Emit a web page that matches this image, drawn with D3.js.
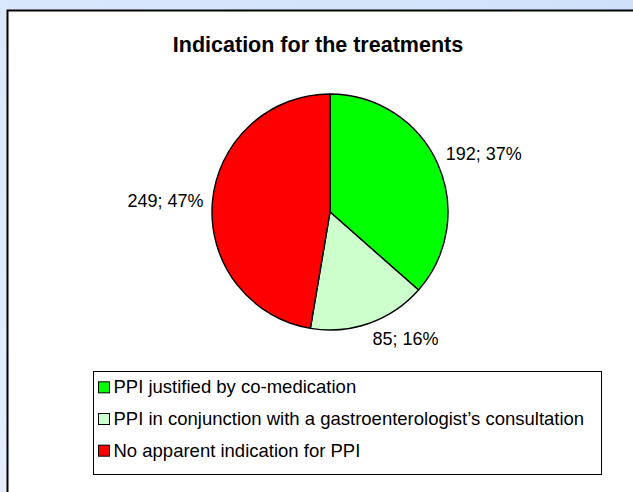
<!DOCTYPE html>
<html>
<head>
<meta charset="utf-8">
<script src="https://cdn.jsdelivr.net/npm/d3@7"></script>
<style>
    html, body { margin: 0; padding: 0; }
    svg { display: block; }
</style>
</head>
<body>
<svg id="chart"></svg>
<script>
// values
var categories = [
    "PPI justified by co-medication",
    "PPI in conjunction with a gastroenterologist\u2019s consultation",
    "No apparent indication for PPI"
];
var counts = [192, 85, 249];
var percentLabels = ["37%", "16%", "47%"];
var sliceColors = ["#00ff00", "#ccffcc", "#ff0000"];
var title = "Indication for the treatments";

var Width = 633;
var Height = 492;
var Font = "Arial, 'Liberation Sans', sans-serif";

var svg = initSvg();
drawTitle(svg);
drawPie(svg);
drawLegend(svg);

function initSvg() {
    let svg = d3.select("#chart")
        .attr("width", Width)
        .attr("height", Height);

    let grad = svg.append("defs").append("linearGradient")
        .attr("id", "bg")
        .attr("x1", "0").attr("y1", "1")
        .attr("x2", "1").attr("y2", "0");
    grad.append("stop").attr("offset", "0").attr("stop-color", "#e4eefc");
    grad.append("stop").attr("offset", "1").attr("stop-color", "#cfe1fa");

    svg.append("rect")
        .attr("width", Width)
        .attr("height", Height)
        .attr("fill", "url(#bg)");

    // white chart area, runs off the right and bottom edge
    svg.append("rect")
        .attr("x", 7.5)
        .attr("y", 10.5)
        .attr("width", Width + 20)
        .attr("height", Height + 20)
        .attr("fill", "#ffffff")
        .attr("stroke", "#000")
        .attr("stroke-width", 2);
    return svg;
}

function drawTitle(svg) {
    svg.append("text")
        .attr("x", 318)
        .attr("y", 52)
        .attr("text-anchor", "middle")
        .attr("font-family", Font)
        .attr("font-weight", "bold")
        .attr("font-size", 21.5)
        .text(title);
}

function drawPie(svg) {
    let cx = 330, cy = 212, r = 118;
    let data = counts.map((v, i) => ({ value: v, label: v + "; " + percentLabels[i], color: sliceColors[i] }));

    let pie = d3.pie()
        .value(d => d.value)
        .sort(null);
    let arcs = pie(data);

    let arc = d3.arc().innerRadius(0).outerRadius(r);

    let g = svg.append("g")
        .attr("transform", `translate(${cx},${cy})`);

    g.selectAll("path")
        .data(arcs)
        .join("path")
        .attr("d", arc)
        .attr("fill", d => d.data.color)
        .attr("stroke", "#000")
        .attr("stroke-width", 1.4)
        .attr("stroke-linejoin", "round");

    // labels: anchor point just outside the rim on the middle angle,
    // text box hangs off it away from the pie
    let labelR = r + 9;
    let glyphH = 13;
    let mid = d => (d.startAngle + d.endAngle) / 2;
    g.selectAll("text")
        .data(arcs)
        .join("text")
        .attr("font-family", Font)
        .attr("font-size", 18)
        .attr("fill", "#000")
        .attr("text-anchor", d => Math.sin(mid(d)) >= 0 ? "start" : "end")
        .attr("x", d => Math.sin(mid(d)) * labelR)
        .attr("y", d => {
            let c = Math.cos(mid(d));
            let above = 0.5 + 0.5 * Math.max(-1, Math.min(1, c / 0.4));
            return -c * labelR + glyphH * (1 - above);
        })
        .text(d => d.data.label);
}

function drawLegend(svg) {
    let box = { x: 93.5, y: 371.5, w: 508, h: 103 };
    let g = svg.append("g");

    g.append("rect")
        .attr("x", box.x)
        .attr("y", box.y)
        .attr("width", box.w)
        .attr("height", box.h)
        .attr("fill", "#fff")
        .attr("stroke", "#000")
        .attr("stroke-width", 1);

    let row = d3.scaleBand()
        .domain(categories)
        .range([box.y, box.y + box.h - 8]);

    let items = g.selectAll("g.item")
        .data(categories)
        .join("g")
        .attr("class", "item")
        .attr("transform", d => `translate(${box.x + 5},${row(d) + row.bandwidth() / 2})`);

    items.append("rect")
        .attr("x", 0)
        .attr("y", -5.5)
        .attr("width", 11)
        .attr("height", 11)
        .attr("fill", (d, i) => sliceColors[i])
        .attr("stroke", "#000")
        .attr("stroke-width", 1);

    items.append("text")
        .attr("x", 15)
        .attr("y", 6)
        .attr("font-family", Font)
        .attr("font-size", 18.5)
        .text(d => d);
}
</script>
</body>
</html>
